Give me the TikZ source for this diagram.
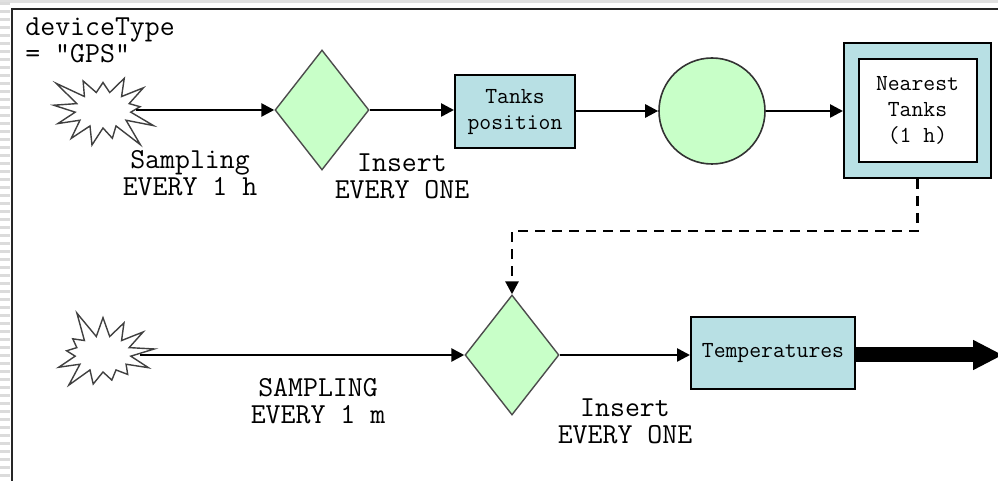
\documentclass[tikz,border=0pt]{standalone}
\usepackage{fontspec}
\usepackage{xcolor}
\usepackage{tikz}
\usetikzlibrary{positioning,shapes.geometric,shapes.symbols,arrows.meta}

\begin{document}
\begin{tikzpicture}[
  x=0.5pt,y=-0.5pt,
  flow/.style={line width=1.3pt,-{Triangle[length=6.5pt,width=6.5pt]}},
  burst/.style={starburst,draw=black!75,line width=0.7pt,fill=white,
    minimum width=58pt,minimum height=48pt,starburst points=13,
    starburst point height=15pt,inner sep=0pt},
  choice/.style={diamond,draw=black!70,line width=0.7pt,fill=lgreen,
    minimum width=47pt,minimum height=60pt,inner sep=0pt,aspect=0.8},
  store/.style={draw,line width=1pt,fill=lblue,font=\ttfamily\fontsize{11.5}{13}\selectfont,
    align=center,inner sep=0pt},
  caption/.style={font=\ttfamily\fontsize{14.5}{13.5}\selectfont,align=center,inner sep=0pt}]

  \definecolor{lgreen}{RGB}{200,255,200}
  \definecolor{lblue}{RGB}{184,224,228}

  \useasboundingbox (0,0) rectangle (998,481);

  % ------------------- window edge ----------------------
  \fill[black!12] (0,0) rectangle (998,3);
  \foreach \y in {2,10,...,480} {
    \fill[black!14] (0,\y) rectangle (10,\y+3);
  }
  \draw[line width=1.2pt,black!85] (12,485) -- (12,9) -- (1002,9);

  % ------------------- GPS row ----------------------
  \node[caption,anchor=north west,align=left] (device) at (25,17) {deviceType\\= "GPS"};

  \node[burst,random starburst=3] (burstA) at (103,110) {};
  \node[choice] (insertA) at (322,110) {};
  \node[store,minimum width=60pt,minimum height=36.5pt] (tanks) at (515,112) {Tanks\\position};
  \node[circle,draw=black!80,line width=0.8pt,fill=lgreen,minimum size=53pt] (join) at (712,111) {};
  \node[draw,line width=1pt,fill=lblue,minimum width=73.5pt,minimum height=67.5pt] (nearest) at (917.5,110.5) {};
  \node[store,fill=white,minimum width=59pt,minimum height=51.5pt] (nearestIn) at (nearest) {Nearest\\Tanks\\(1 h)};

  \node[caption] (sampA) at (190,173) {Sampling\\EVERY 1 h};
  \node[caption] (insA) at (402,176) {Insert\\EVERY ONE};

  \draw[flow] (burstA.east |- insertA.west) -- (insertA.west);
  \draw[flow] (insertA.east) -- (tanks.west |- insertA.east);
  \draw[flow] (tanks.east |- join.west) -- (join.west);
  \draw[flow] (join.east) -- (nearest.west |- join.east);

  % ------------------- temperature row ----------------------
  \node[burst,random starburst=5] (burstB) at (103,354) {};
  \node[choice] (insertB) at (512,355) {};
  \node[store,minimum width=82pt,minimum height=36pt] (temps) at (773,353) {Temperatures};

  \node[caption] (sampB) at (318,401) {SAMPLING\\EVERY 1 m};
  \node[caption] (insB) at (625,421) {Insert\\EVERY ONE};

  \draw[flow] (burstB.east |- insertB.west) -- (insertB.west);
  \draw[flow] (insertB.east) -- (temps.west |- insertB.east);
  \coordinate (out) at (1003,355);
  \draw[line width=7.5pt,-{Triangle[length=15pt,width=14pt]}] (temps.east |- out) -- (out);

  % ------------------- link between rows ----------------------
  \draw[flow,dash pattern=on 5pt off 3.5pt,line width=1.4pt]
    (nearest.south) -- ++(0,52) -| (insertB.north);
\end{tikzpicture}
\end{document}
